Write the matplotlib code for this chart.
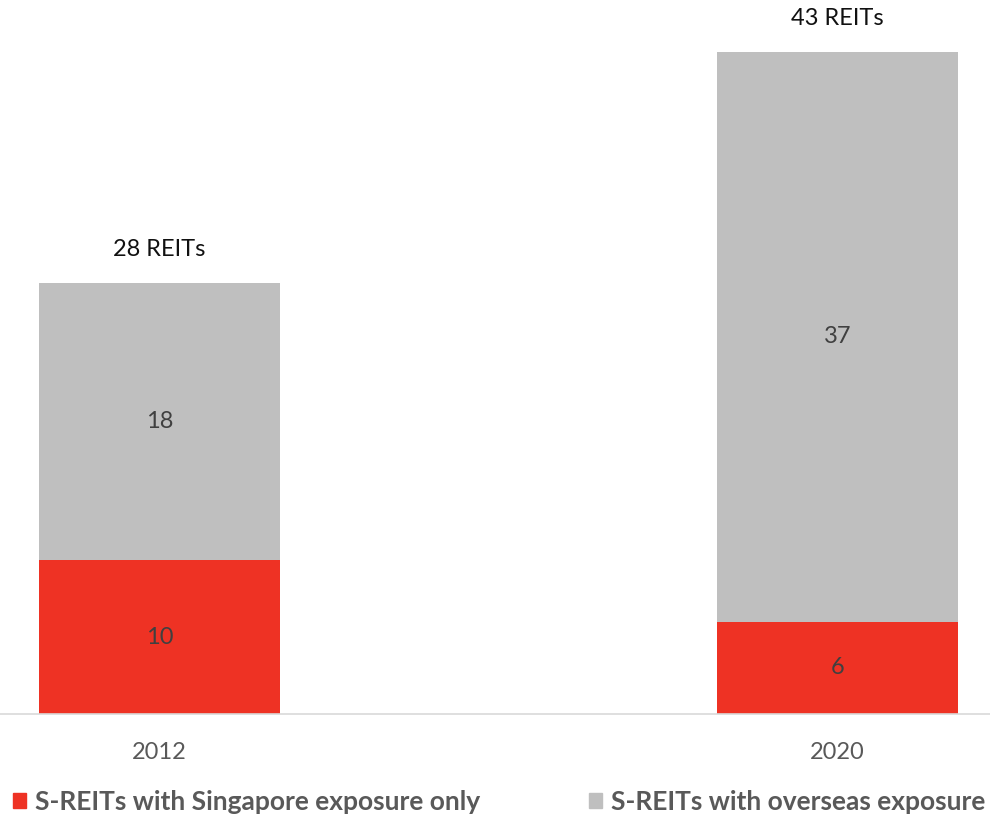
import matplotlib
matplotlib.use("Agg")
import matplotlib.pyplot as plt
from matplotlib.patches import Patch

years = ["2012", "2020"]
sg_only = [10, 6]
overseas = [18, 37]
totals = [a + b for a, b in zip(sg_only, overseas)]
total_labels = [f"{t} REITs" for t in totals]
series_names = ["S-REITs with Singapore exposure only", "S-REITs with overseas exposure"]

RED = "#EE3224"
GREY = "#BFBFBF"
FONT = ["Lato", "DejaVu Sans"]

fig = plt.figure(figsize=(9.9, 8.16), dpi=100)
ax = fig.add_axes([0.0, 0.125, 1.0, 0.8113])

x = [0, 1]
width = 0.3555
ax.bar(x, sg_only, width, color=RED, zorder=2)
ax.bar(x, overseas, width, bottom=sg_only, color=GREY, zorder=2)

for xi, a, b, lab in zip(x, sg_only, overseas, total_labels):
    ax.text(xi, a / 2, str(a), ha="center", va="center", fontsize=17,
            color="#404040", family=FONT)
    ax.text(xi, a + b / 2, str(b), ha="center", va="center", fontsize=17,
            color="#404040", family=FONT)
    ax.annotate(lab, (xi, a + b), xytext=(0, 24), textcoords="offset points",
                ha="center", va="center", fontsize=17, color="#111111",
                family=FONT, annotation_clip=False)

ax.set_xlim(-0.2352, 1.2249)
ax.set_ylim(0, 43)
ax.set_xticks(x)
ax.set_xticklabels(years, fontsize=17, color="#595959", family=FONT)
ax.tick_params(axis="x", length=0, pad=20)
ax.set_yticks([])
for side in ["top", "right", "left"]:
    ax.spines[side].set_visible(False)
ax.spines["bottom"].set_color("#D9D9D9")
ax.spines["bottom"].set_linewidth(1.2)

handles = [Patch(color=RED), Patch(color=GREY)]
leg = fig.legend(handles, series_names, loc="center left",
                 bbox_to_anchor=(0.005, 0.017), ncol=2, frameon=False,
                 handlelength=0.5, handleheight=0.5, handletextpad=0.35,
                 columnspacing=4.1, borderaxespad=0, borderpad=0.3,
                 prop={"family": FONT, "size": 19, "weight": "bold"})
for t in leg.get_texts():
    t.set_color("#595959")

fig.savefig("out.png", dpi=100)
